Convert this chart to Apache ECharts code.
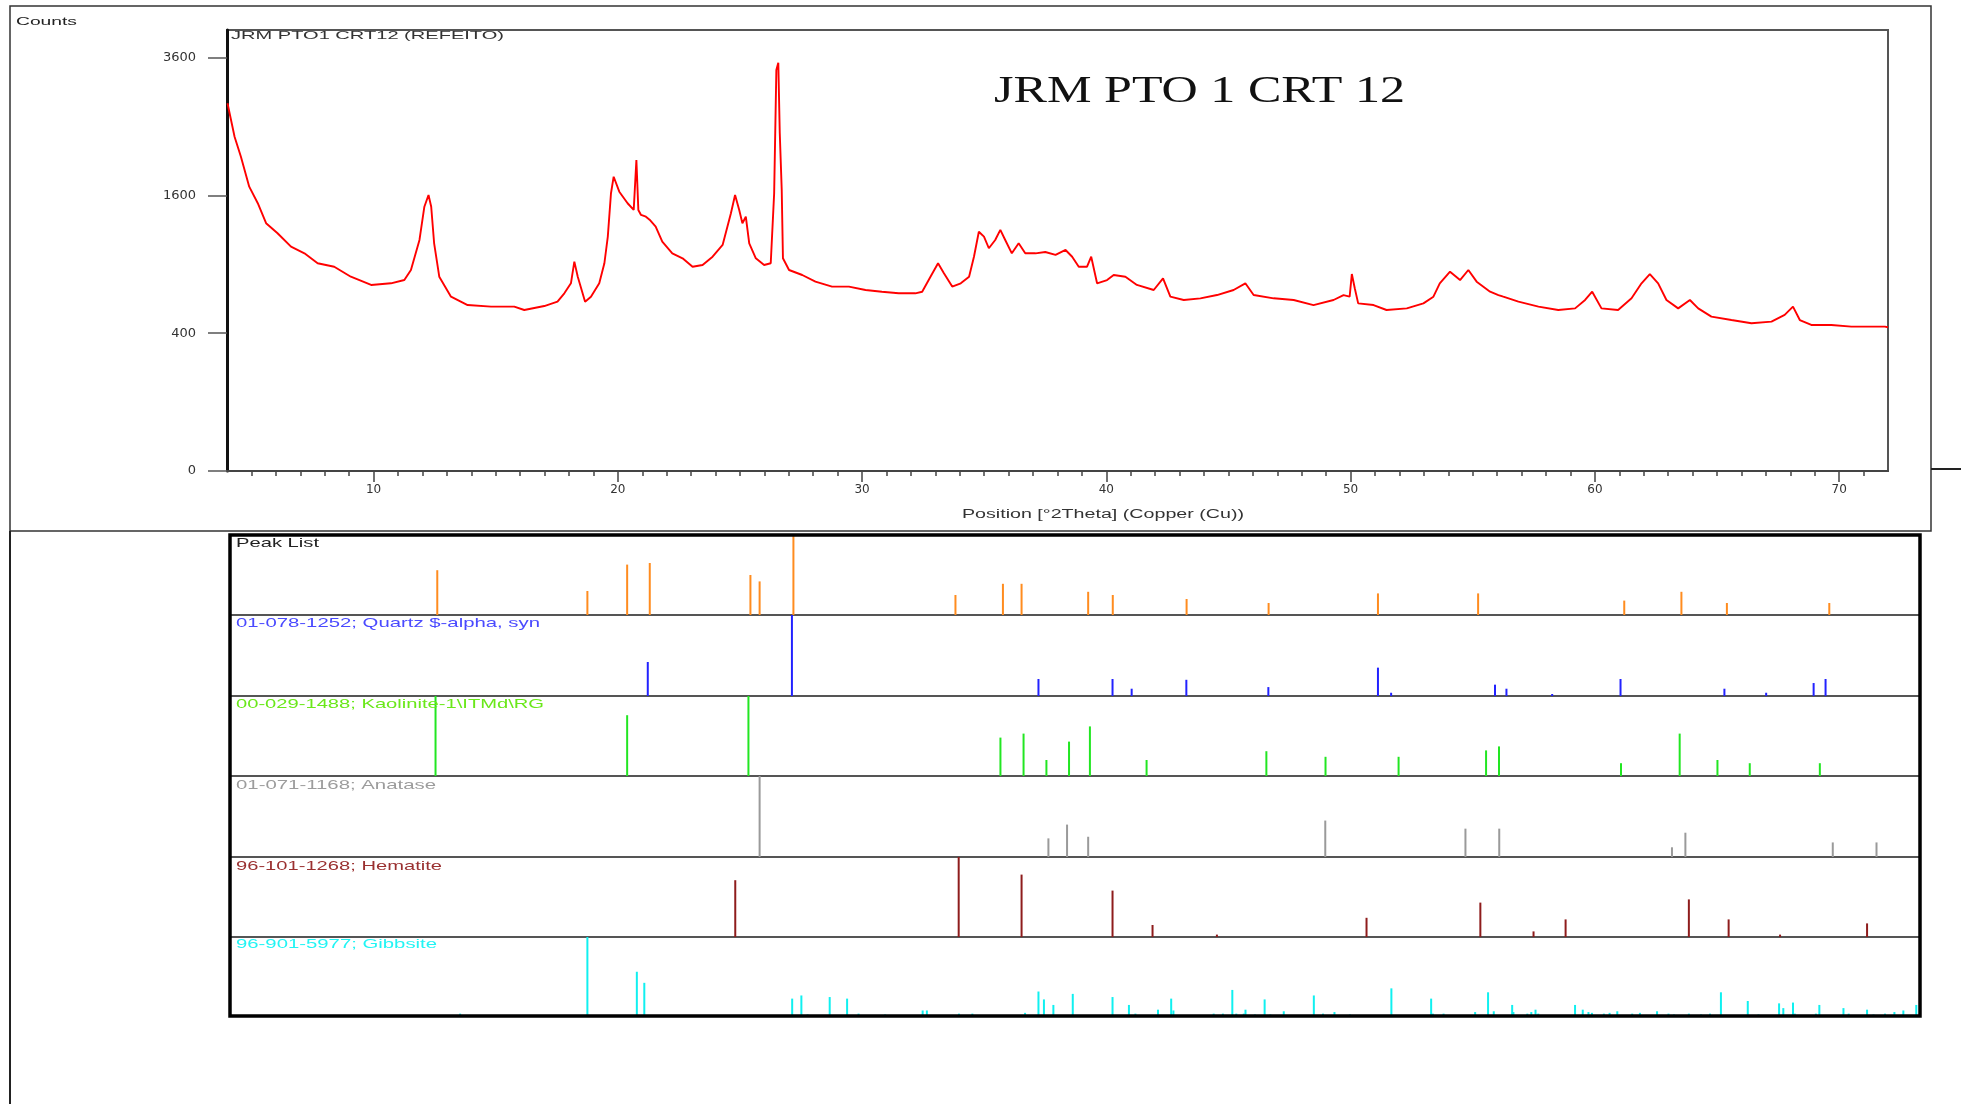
<!DOCTYPE html>
<html><head><meta charset="utf-8">
<script src="https://cdn.jsdelivr.net/npm/echarts@6/dist/echarts.min.js"></script>
<style>html,body{margin:0;padding:0;background:#fff;overflow:hidden}#c{width:1961px;height:1104px}</style>
</head><body><div id="c"></div>
<script>
// ---- measured diffractogram (2theta in degrees, counts) ----
const theta = [4.02,4.31,4.57,4.91,5.26,5.60,6.07,6.62,7.17,7.71,8.39,9.07,9.90,10.71,11.26,11.53,11.88,12.08,12.25,12.36,12.48,12.69,13.17,13.85,14.81,15.76,16.17,16.99,17.53,17.81,18.08,18.22,18.36,18.66,18.90,19.24,19.45,19.59,19.72,19.83,20.06,20.40,20.65,20.76,20.84,20.95,21.15,21.30,21.55,21.82,22.23,22.65,23.06,23.47,23.88,24.29,24.63,24.80,24.97,25.10,25.24,25.38,25.65,25.99,26.26,26.40,26.49,26.57,26.63,26.71,26.76,27.01,27.55,28.09,28.77,29.46,30.14,30.81,31.50,32.18,32.46,32.80,33.11,33.35,33.69,34.04,34.38,34.58,34.78,34.99,35.19,35.45,35.66,35.86,36.13,36.41,36.68,37.10,37.50,37.92,38.33,38.60,38.87,39.21,39.38,39.62,40.03,40.30,40.78,41.25,41.94,42.32,42.62,43.17,43.85,44.53,45.21,45.69,46.03,46.85,47.67,48.48,49.30,49.71,49.96,50.05,50.17,50.31,50.94,51.47,52.30,52.98,53.39,53.65,54.07,54.48,54.82,55.16,55.71,56.05,56.25,56.87,57.69,58.50,59.19,59.60,59.89,60.27,60.95,61.50,61.91,62.25,62.59,62.93,63.41,63.89,64.23,64.77,65.59,66.41,67.23,67.77,68.11,68.39,68.86,69.68,70.50,71.32,71.87,72.00];
const counts = [2848,2354,2081,1703,1510,1293,1190,1060,998,909,879,795,729,742,768,851,1124,1471,1605,1471,1092,795,640,580,569,569,546,573,604,665,742,923,795,604,640,742,909,1157,1625,1824,1643,1510,1435,2037,1435,1381,1362,1330,1257,1108,998,953,879,894,967,1076,1399,1605,1435,1293,1362,1092,953,894,909,1625,3387,3512,2403,1663,953,851,809,755,716,716,690,677,665,665,677,795,909,823,716,742,795,967,1206,1157,1045,1124,1224,1124,998,1092,998,998,1010,983,1029,967,879,879,967,742,768,809,795,729,690,782,640,616,628,652,690,742,652,628,616,580,616,652,640,817,703,592,580,546,557,592,640,742,837,768,851,755,677,652,640,604,569,546,557,616,677,557,546,628,742,817,742,616,557,616,557,502,480,460,470,513,569,480,449,449,439,439,439,435];

// ---- reference patterns: [2theta, relative intensity %] ----
const peakList = [[12.34,56],[18.38,30],[19.98,63],[20.89,65],[24.94,50],[25.31,42],[26.67,100],[33.19,25],[35.10,39],[35.85,39],[38.53,29],[39.52,25],[42.49,20],[45.79,15],[50.19,27],[54.22,27],[60.10,18],[62.40,29],[64.23,15],[68.35,15]];
const quartz = [[20.81,42],[26.61,100],[36.53,21],[39.51,21],[40.28,9],[42.48,20],[45.78,11],[50.19,35],[50.72,4],[54.90,14],[55.36,9],[57.20,2.5],[59.95,21],[64.13,9],[65.81,4],[67.72,16],[68.20,21]];
const kaolinite = [[12.27,100],[19.98,76],[24.86,100],[35.00,48],[35.93,53],[36.85,20],[37.76,43],[38.60,62],[40.88,20],[45.70,31],[48.08,24],[51.02,24],[54.54,32],[55.06,37],[59.97,16],[62.33,53],[63.85,20],[65.15,16],[67.97,16],[72.00,16]];
const anatase = [[25.31,100],[36.93,23],[37.68,40],[38.53,25],[48.07,45],[53.71,35],[55.07,35],[62.02,12],[62.56,30],[68.49,18],[70.25,18]];
const hematite = [[24.33,71],[33.32,100],[35.85,78],[39.51,58],[41.12,15],[43.71,3],[49.73,24],[54.31,43],[56.45,7],[57.74,22],[62.70,47],[64.30,22],[66.37,3],[69.87,17],[72.00,31]];
const gibbsite = [[13.26,3],[18.38,100],[20.37,56],[20.67,42],[26.62,22],[26.99,26],[27.24,2],[28.13,24],[28.83,22],[29.29,3],[30.36,2],[31.87,7],[32.04,7],[33.33,3],[33.87,3],[35.32,1],[35.47,1],[35.99,4],[36.53,31],[36.75,21],[37.13,14],[37.91,28],[39.51,24],[40.17,14],[40.43,3],[41.34,8],[41.87,22],[41.96,7],[43.58,3],[43.95,3],[44.33,33],[44.49,3],[44.79,3],[44.86,8],[45.24,2],[45.63,21],[45.86,2],[46.40,6],[47.61,26],[47.98,3],[48.44,5],[49.06,2],[50.73,35],[51.11,1],[52.33,22],[52.40,3],[52.83,3],[53.48,1],[54.10,5],[54.62,30],[54.85,6],[55.59,14],[55.64,5],[56.20,3],[56.36,5],[56.53,8],[56.64,3],[57.59,1],[58.12,14],[58.43,8],[58.66,5],[58.80,4],[59.28,3],[59.51,4],[59.82,6],[60.42,3],[60.73,4],[61.42,6],[61.88,3],[62.10,2],[62.70,3],[63.19,2],[63.55,3],[63.99,30],[65.07,19],[65.50,2],[66.33,16],[66.50,10],[66.89,17],[66.96,3],[67.81,3],[67.95,14],[68.92,10],[69.13,3],[69.87,8],[70.13,2],[70.59,3],[70.97,5],[71.33,7],[71.85,14]];

const rowNames = ['Peak List','01-078-1252; Quartz $-alpha, syn','00-029-1488; Kaolinite-1\\ITMd\\RG','01-071-1168; Anatase','96-101-1268; Hematite','96-901-5977; Gibbsite'];
const xTickLabels = [10,20,30,40,50,60,70];
const yTickCounts = [0,400,1600,3600];

// ---- styling / layout ----
const rowData = [peakList, quartz, kaolinite, anatase, hematite, gibbsite];
const stickColors = ['#ff8c1f','#2222ff','#22e622','#9a9a9a','#8e1c1c','#10f0f0'];
const labelColors = ['#222222','#4a4aff','#6ae81a','#9c9c9c','#9a3030','#22f4f4'];
const rowTops = [535,615,696,776,857,937];
const rowH = [80,81,80,81,80,79];
const rowLabelY = [543,623,704,785,866,944];
const rowLabelW = [83,304,308,200,206,201];
const minorTickValues = [];
for (let d = 5; d <= 71; d++) minorTickValues.push(d);

const mctx = document.createElement('canvas').getContext('2d');
function sText(txt, font, left, cy, targetW, color) {
  mctx.font = font;
  const w = mctx.measureText(txt).width || 1;
  return {type:'text', x:left, y:cy, scaleX: targetW / w, originX:0, originY:0, z:100, silent:true,
    style:{text:txt, font:font, fill:color, align:'left', verticalAlign:'middle'}};
}

const grids = [{left:227, top:30, width:1661, height:441, show:true, borderColor:'#555', borderWidth:2}];
const xAxes = [
  {gridIndex:0, type:'value', min:4, max:72, interval:1, position:'bottom',
   axisLine:{show:true, onZero:false, lineStyle:{color:'#444', width:2}},
   axisTick:{show:true, customValues:minorTickValues, length:5, lineStyle:{color:'#444', width:1.5}},
   axisLabel:{show:true, customValues:xTickLabels, margin:13, color:'#333', fontSize:12, fontFamily:'DejaVu Sans'},
   splitLine:{show:false}},
  {gridIndex:0, type:'value', min:4, max:72, position:'bottom', offset:0,
   axisLine:{show:false},
   axisTick:{show:true, customValues:xTickLabels, length:11, lineStyle:{color:'#444', width:1.5}},
   axisLabel:{show:false}, splitLine:{show:false}}
];
const yAxes = [
  {gridIndex:0, type:'value', min:0, max:64,
   axisLine:{show:true, lineStyle:{color:'#111', width:3}},
   axisTick:{show:true, customValues:yTickCounts.map(Math.sqrt), length:19, lineStyle:{color:'#555', width:1.5}},
   axisLabel:{show:true, customValues:yTickCounts.map(Math.sqrt), margin:31, color:'#333', fontSize:13, fontFamily:'DejaVu Sans',
     formatter:(v)=>String(Math.round(v*v))},
   splitLine:{show:false}}
];
const series = [{
  type:'line', xAxisIndex:0, yAxisIndex:0, name:'JRM PTO1 CRT12 (REFEITO)',
  data: theta.map((t,i)=>[t, Math.sqrt(counts[i])]),
  showSymbol:false, symbol:'none', lineStyle:{color:'#ff0000', width:1.9}, silent:true, z:5
}];

rowData.forEach((rows, i) => {
  grids.push({left:230, top:rowTops[i], width:1690, height:rowH[i], show:false});
  xAxes.push({gridIndex:i+1, type:'value', min:4, max:72, position:'bottom',
    axisLine:{show:true, onZero:false, lineStyle:{color:'#555', width:2}},
    axisTick:{show:false}, axisLabel:{show:false}, splitLine:{show:false}});
  yAxes.push({gridIndex:i+1, type:'value', min:0, max:100, show:false, splitLine:{show:false}});
  series.push({type:'bar', name:rowNames[i], xAxisIndex:i+2, yAxisIndex:i+1, barWidth:2,
    data: rows, itemStyle:{color:stickColors[i]}, silent:true, z:3});
});

const graphics = [
  {type:'rect', shape:{x:10, y:6, width:1921, height:525}, style:{fill:'none', stroke:'#333', lineWidth:1.5}, silent:true, z:1},
  {type:'line', shape:{x1:10, y1:531, x2:10, y2:1104}, style:{stroke:'#222', lineWidth:2}, silent:true, z:1},
  {type:'line', shape:{x1:1931, y1:469, x2:1961, y2:469}, style:{stroke:'#222', lineWidth:2}, silent:true, z:1},
  {type:'rect', shape:{x:230, y:535, width:1690, height:481}, style:{fill:'none', stroke:'#000', lineWidth:3.5}, silent:true, z:50},
  sText('Counts', "11px 'Liberation Sans', Arial, sans-serif", 16, 22, 61, '#222'),
  sText('JRM PTO1 CRT12 (REFEITO)', "11px 'Liberation Sans', Arial, sans-serif", 231, 36, 273, '#333'),
  sText('JRM PTO 1 CRT 12', "38px 'Liberation Serif', 'Times New Roman', serif", 994, 92, 411, '#111'),
  sText('Position [°2Theta] (Copper (Cu))', "12px 'Liberation Sans', Arial, sans-serif", 962, 515, 282, '#333')
];
rowNames.forEach((n, i) => {
  graphics.push(sText(n, "13px 'Liberation Sans', Arial, sans-serif", 236, rowLabelY[i], rowLabelW[i], labelColors[i]));
});

const chart = echarts.init(document.getElementById('c'), null, {renderer:'canvas'});
chart.setOption({
  animation:false,
  backgroundColor:'#ffffff',
  grid: grids, xAxis: xAxes, yAxis: yAxes, series: series, graphic: graphics
});
</script></body></html>
